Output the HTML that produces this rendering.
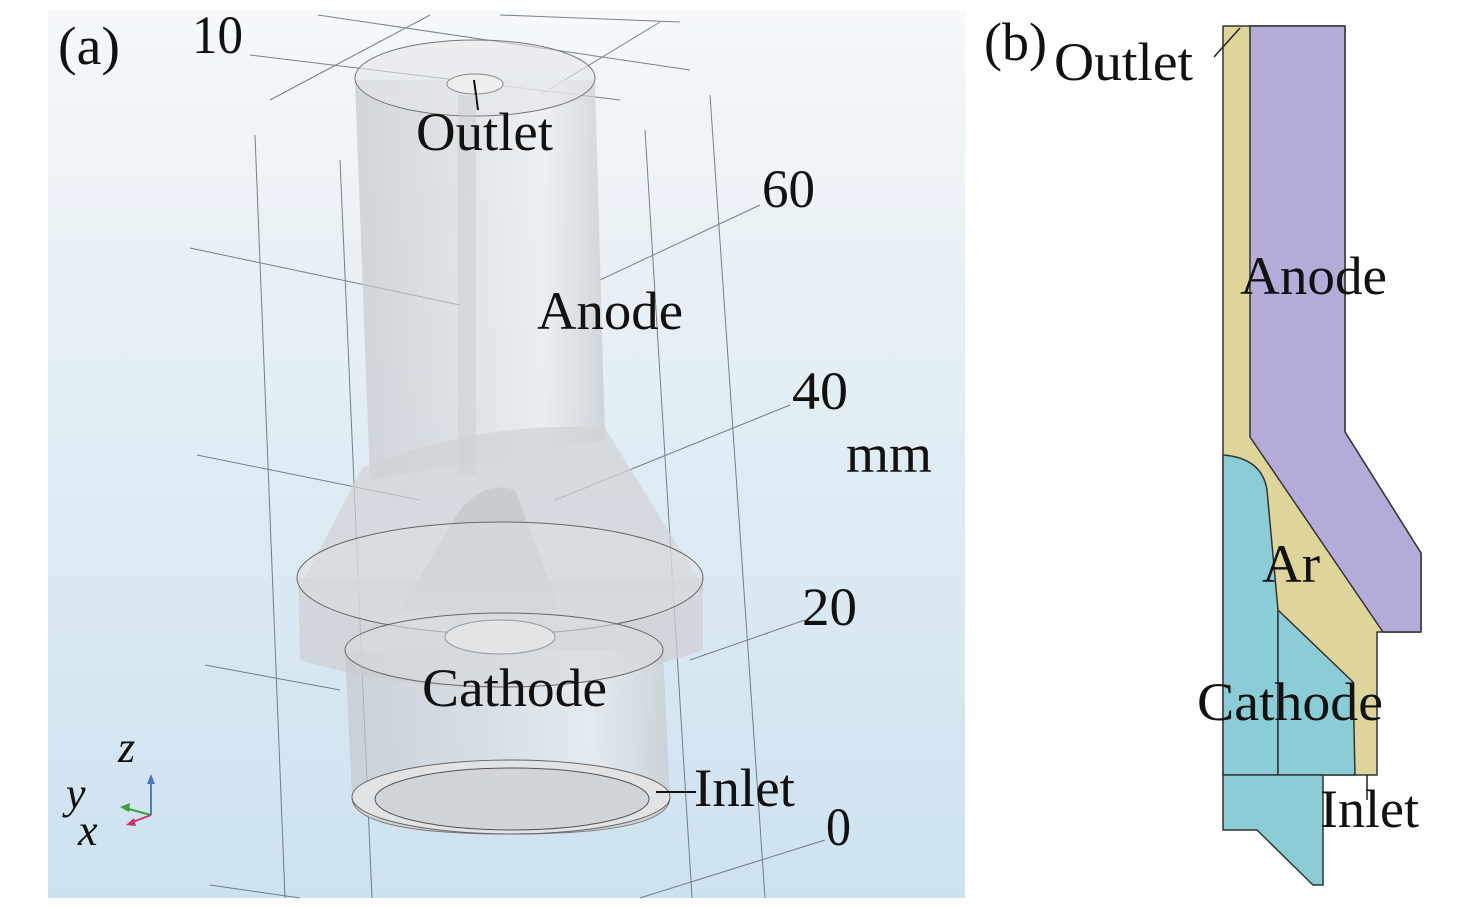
<!DOCTYPE html>
<html><head><meta charset="utf-8"><style>
html,body{margin:0;padding:0;background:#fff;width:1476px;height:906px;overflow:hidden}
svg{display:block}
text{font-family:"Liberation Serif",serif;fill:#111}
</style></head><body>
<svg width="1476" height="906" viewBox="0 0 1476 906" xmlns="http://www.w3.org/2000/svg">
<defs>
<linearGradient id="bg" x1="0" y1="0" x2="0" y2="1">
<stop offset="0" stop-color="#f7f9fb"/><stop offset="0.08" stop-color="#f1f5f8"/><stop offset="1" stop-color="#cde2ef"/>
</linearGradient>
<linearGradient id="cyl" x1="0" y1="0" x2="1" y2="0">
<stop offset="0" stop-color="#c4c8cc" stop-opacity=".7"/><stop offset=".4" stop-color="#d6d9dc" stop-opacity=".6"/><stop offset=".75" stop-color="#eceef0" stop-opacity=".6"/><stop offset="1" stop-color="#c6cace" stop-opacity=".7"/>
</linearGradient>
</defs>
<rect x="48" y="10" width="917" height="888" fill="url(#bg)"/>
<g stroke="#5a6470" stroke-width="1" fill="none" opacity=".8">
<line x1="250" y1="55" x2="620" y2="100"/>
<line x1="270" y1="100" x2="430" y2="15"/>
<line x1="318" y1="15" x2="690" y2="70"/>
<line x1="500" y1="15" x2="680" y2="22"/>
<line x1="540" y1="95" x2="660" y2="22"/>
<line x1="255" y1="135" x2="285" y2="898"/>
<line x1="340" y1="160" x2="372" y2="898"/>
<line x1="645" y1="130" x2="692" y2="898"/>
<line x1="710" y1="95" x2="765" y2="898"/>
<line x1="190" y1="248" x2="460" y2="305"/>
<line x1="600" y1="280" x2="760" y2="205"/>
<line x1="197" y1="455" x2="420" y2="500"/>
<line x1="555" y1="500" x2="790" y2="405"/>
<line x1="205" y1="665" x2="340" y2="690"/>
<line x1="690" y1="660" x2="805" y2="620"/>
<line x1="210" y1="885" x2="300" y2="898"/>
<line x1="640" y1="898" x2="825" y2="840"/>
</g>
<path d="M355,80 L370,480 L605,440 L595,80 Z" fill="url(#cyl)"/>
<ellipse cx="475" cy="78" rx="120" ry="38" fill="#e4e6e8" fill-opacity=".6" stroke="#777" stroke-width="1"/>
<ellipse cx="475" cy="84" rx="28" ry="10" fill="#eceef0" stroke="#888" stroke-width="1"/>
<line x1="474" y1="80" x2="478" y2="110" stroke="#111" stroke-width="2"/>
<rect x="458" y="95" width="18" height="380" fill="#c3c7cb" opacity=".4"/>
<path d="M362,468 Q480,420 605,428 L705,590 L298,592 Z" fill="#d0d3d6" fill-opacity=".7"/>
<path d="M460,510 Q485,480 515,490 L560,610 L400,610 Z" fill="#b9bdc2" opacity=".5"/>
<path d="M298,578 L300,660 Q500,720 703,650 L703,578 Z" fill="#cdd0d4" fill-opacity=".75"/>
<ellipse cx="500" cy="578" rx="203" ry="56" fill="#dcdfe2" fill-opacity=".5" stroke="#666" stroke-width="1"/>
<path d="M345,650 L352,797 L670,797 L663,650 Z" fill="url(#cyl)"/>
<ellipse cx="504" cy="650" rx="159" ry="37" fill="#d9dcdf" fill-opacity=".6" stroke="#666" stroke-width="1"/>
<ellipse cx="500" cy="637" rx="55" ry="17" fill="#e2e4e6" stroke="#999" stroke-width="1"/>
<path d="M352,797 Q352,834 511,834 Q670,834 670,797" fill="#cfd2d5" stroke="#777"/>
<ellipse cx="511" cy="797" rx="159" ry="37" fill="#e1e3e5" stroke="#666" stroke-width="1"/>
<ellipse cx="512" cy="799" rx="137" ry="31" fill="#d2d5d8" stroke="#555" stroke-width="1"/>
<line x1="656" y1="792" x2="696" y2="792" stroke="#111" stroke-width="2"/>
<line x1="151" y1="815" x2="151" y2="780" stroke="#4a7ab8" stroke-width="2"/>
<polygon points="147,784 151,774 155,784" fill="#4a7ab8"/>
<line x1="151" y1="815" x2="125" y2="808" stroke="#3aa040" stroke-width="2"/>
<polygon points="120,807 130,803 129,812" fill="#3aa040"/>
<line x1="151" y1="815" x2="130" y2="823" stroke="#d0306a" stroke-width="2"/>
<polygon points="126,825 134,818 136,826" fill="#d0306a"/>
<text x="118" y="762" font-size="44" font-style="italic">z</text>
<text x="66" y="808" font-size="44" font-style="italic">y</text>
<text x="78" y="845" font-size="44" font-style="italic">x</text>
<g font-size="54" lengthAdjust="spacingAndGlyphs">
<text x="58" y="64" textLength="62" lengthAdjust="spacingAndGlyphs">(a)</text>
<text x="192" y="53" textLength="51" lengthAdjust="spacingAndGlyphs">10</text>
<text x="416" y="150" textLength="137" lengthAdjust="spacingAndGlyphs">Outlet</text>
<text x="762" y="207" textLength="53" lengthAdjust="spacingAndGlyphs">60</text>
<text x="537" y="329" textLength="146" lengthAdjust="spacingAndGlyphs">Anode</text>
<text x="792" y="409" textLength="56" lengthAdjust="spacingAndGlyphs">40</text>
<text x="846" y="472" textLength="86" lengthAdjust="spacingAndGlyphs">mm</text>
<text x="802" y="625" textLength="55" lengthAdjust="spacingAndGlyphs">20</text>
<text x="422" y="706" textLength="185" lengthAdjust="spacingAndGlyphs">Cathode</text>
<text x="694" y="806" textLength="101" lengthAdjust="spacingAndGlyphs">Inlet</text>
<text x="826" y="845" textLength="25" lengthAdjust="spacingAndGlyphs">0</text>
</g>
<g stroke="#333" stroke-width="1.5" stroke-linejoin="round">
<path d="M1223,26 L1345,26 L1345,432 L1421,553 L1421,632 L1377,632 L1377,775 L1223,775 Z" fill="#ddd59a"/>
<path d="M1250,26 L1345,26 L1345,432 L1421,553 L1421,632 L1383,632 L1250,437 Z" fill="#b5abd8"/>
<path d="M1223,455 Q1262,458 1267,490 L1278,610 L1278,775 L1223,775 Z" fill="#8bcdd6"/>
<path d="M1278,610 L1353,682 L1355,775 L1278,775 Z" fill="#8bcdd6"/>
<path d="M1223,775 L1323,775 L1323,885 L1313,885 L1257,830 L1223,830 Z" fill="#8bcdd6"/>
</g>
<line x1="1367" y1="775" x2="1367" y2="800" stroke="#222" stroke-width="1.5"/>
<line x1="1214" y1="57" x2="1240" y2="28" stroke="#222" stroke-width="1.5"/>
<g font-size="54">
<text x="984" y="60" textLength="63" lengthAdjust="spacingAndGlyphs">(b)</text>
<text x="1054" y="80" textLength="139" lengthAdjust="spacingAndGlyphs">Outlet</text>
<text x="1240" y="294" textLength="147" lengthAdjust="spacingAndGlyphs">Anode</text>
<text x="1262" y="582" textLength="58" lengthAdjust="spacingAndGlyphs">Ar</text>
<text x="1197" y="720" textLength="186" lengthAdjust="spacingAndGlyphs">Cathode</text>
<text x="1320" y="827" textLength="99" lengthAdjust="spacingAndGlyphs">Inlet</text>
</g>
</svg>
</body></html>
